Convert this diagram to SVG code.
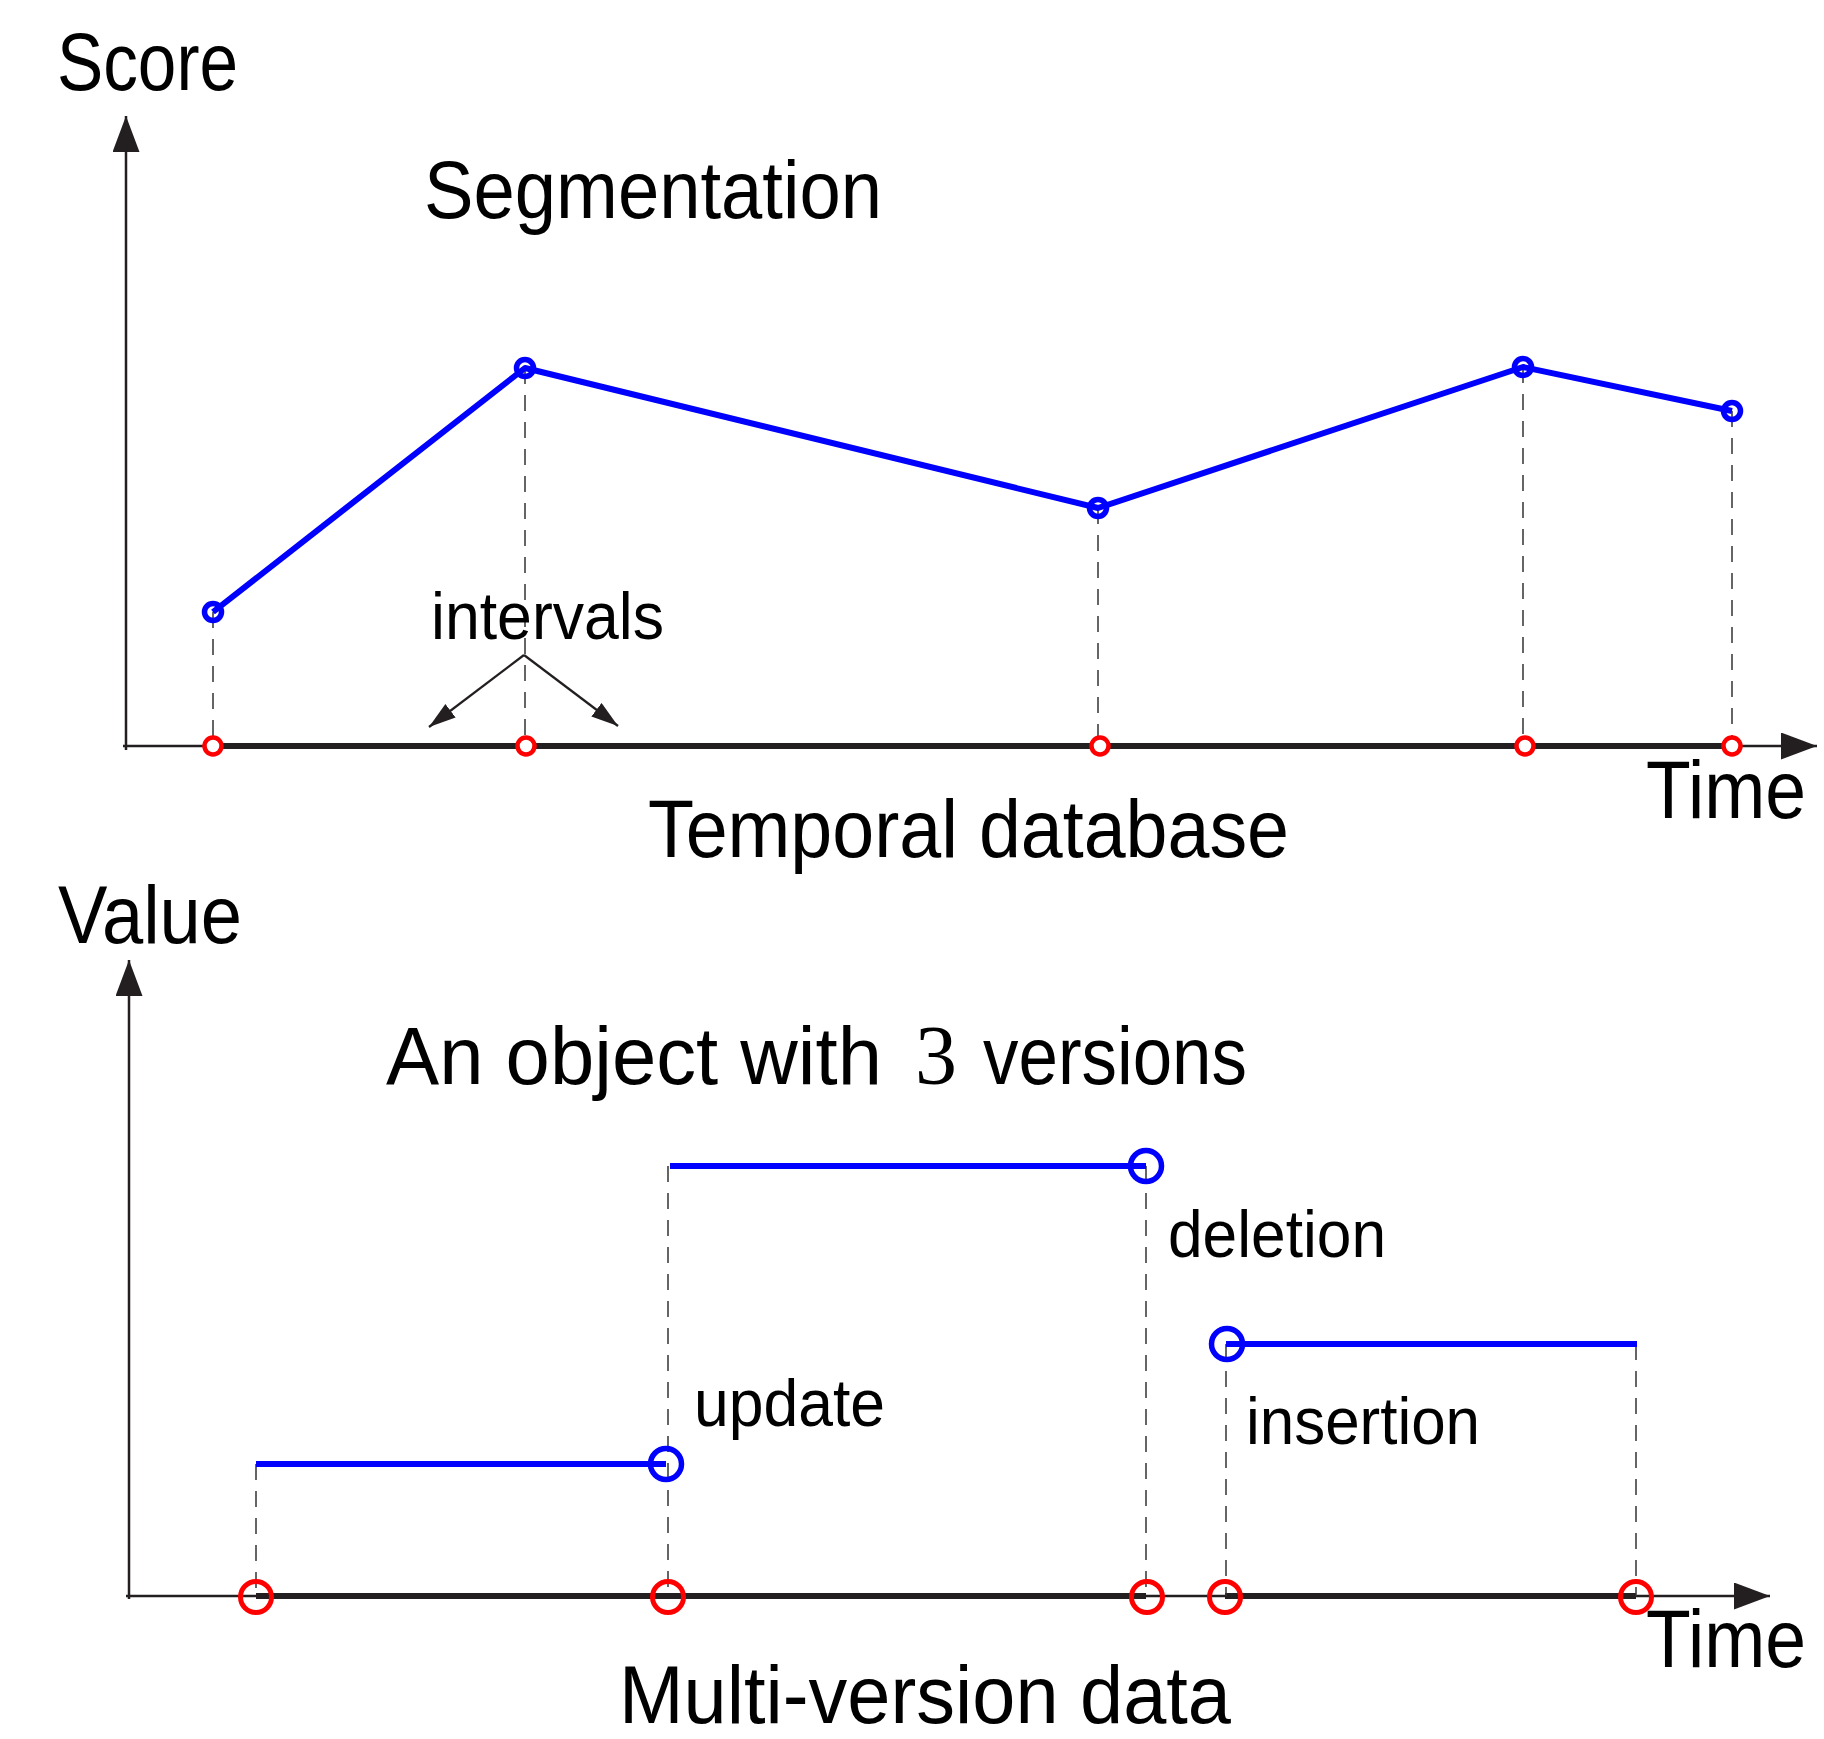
<svg xmlns="http://www.w3.org/2000/svg" width="1824" height="1739" viewBox="0 0 1824 1739">
<style>
  .big { font-family: "Liberation Sans", Arial, sans-serif; font-size: 81px; fill: #000; }
  .small { font-family: "Liberation Sans", Arial, sans-serif; font-size: 66px; fill: #000; }
  .serif { font-family: "Liberation Serif", "Times New Roman", serif; font-size: 84px; }
  .axis { stroke: #231f20; stroke-width: 2.5; fill: none; }
  .thick { stroke: #231f20; stroke-width: 6; fill: none; }
  .dash { stroke: #333; stroke-width: 1.5; stroke-dasharray: 16 11; fill: none; }
  .blue { stroke: #0000ff; stroke-width: 6; fill: none; stroke-linejoin: round; }
  .bpt { stroke: #0000ff; stroke-width: 5.5; fill: none; }
  .rpt { stroke: #ff0000; stroke-width: 4.5; fill: #fff; }
  .rptb { stroke: #ff0000; stroke-width: 5; fill: none; }
  .ptr { stroke: #231f20; stroke-width: 2.2; fill: none; }
</style>
<defs>
  <marker id="axArrow" markerUnits="userSpaceOnUse" markerWidth="37" markerHeight="28" refX="36" refY="13.5" orient="auto" viewBox="0 0 37 28">
    <path d="M0,0 L36,13.5 L0,27 Z" fill="#231f20"/>
  </marker>
  <marker id="smArrow" markerUnits="userSpaceOnUse" markerWidth="28" markerHeight="18" refX="27" refY="8.5" orient="auto" viewBox="0 0 28 18">
    <path d="M0,0 L27,8.5 L0,17 Z" fill="#231f20"/>
  </marker>
</defs>

<g id="connectors">
  <!-- top chart axes -->
  <line class="axis" x1="126" y1="750" x2="126" y2="116" marker-end="url(#axArrow)"/>
  <line class="axis" x1="123" y1="746" x2="1817" y2="746" marker-end="url(#axArrow)"/>
  <line class="thick" x1="213" y1="746" x2="1732" y2="746"/>
  <!-- top dashed projections -->
  <line class="dash" x1="213" y1="612" x2="213" y2="746"/>
  <line class="dash" x1="525" y1="368" x2="525" y2="746"/>
  <line class="dash" x1="1098" y1="508" x2="1098" y2="746"/>
  <line class="dash" x1="1523" y1="367" x2="1523" y2="746"/>
  <line class="dash" x1="1732" y1="411" x2="1732" y2="746"/>
  <!-- segmentation polyline -->
  <polyline class="blue" points="213,612 525,368 1098,508 1523,367 1732,411"/>
  <!-- intervals pointers -->
  <line class="ptr" x1="524" y1="655" x2="429" y2="727" marker-end="url(#smArrow)"/>
  <line class="ptr" x1="524" y1="655" x2="618" y2="726" marker-end="url(#smArrow)"/>

  <!-- bottom chart axes -->
  <line class="axis" x1="129" y1="1599" x2="129" y2="960" marker-end="url(#axArrow)"/>
  <line class="axis" x1="126" y1="1596" x2="1770" y2="1596" marker-end="url(#axArrow)"/>
  <line class="thick" x1="256" y1="1596" x2="1146" y2="1596"/>
  <line class="thick" x1="1225" y1="1596" x2="1636" y2="1596"/>
  <!-- bottom dashed projections -->
  <line class="dash" x1="256" y1="1464" x2="256" y2="1596"/>
  <line class="dash" x1="668" y1="1166" x2="668" y2="1596"/>
  <line class="dash" x1="1146" y1="1166" x2="1146" y2="1596"/>
  <line class="dash" x1="1226" y1="1344" x2="1226" y2="1596"/>
  <line class="dash" x1="1636" y1="1344" x2="1636" y2="1596"/>
  <!-- version segments -->
  <line class="blue" x1="256" y1="1464" x2="666" y2="1464"/>
  <line class="blue" x1="670" y1="1166" x2="1146" y2="1166"/>
  <line class="blue" x1="1226" y1="1344" x2="1637" y2="1344"/>
</g>

<g id="top-points">
  <circle class="bpt" cx="213" cy="612" r="8.5"/>
  <circle class="bpt" cx="525" cy="368" r="8.5"/>
  <circle class="bpt" cx="1098" cy="508" r="8.5"/>
  <circle class="bpt" cx="1523" cy="367" r="8.5"/>
  <circle class="bpt" cx="1732" cy="411" r="8.5"/>
  <circle class="rpt" cx="213" cy="746" r="8.5"/>
  <circle class="rpt" cx="526" cy="746" r="8.5"/>
  <circle class="rpt" cx="1100" cy="746" r="8.5"/>
  <circle class="rpt" cx="1525" cy="746" r="8.5"/>
  <circle class="rpt" cx="1732" cy="746" r="8.5"/>
</g>

<g id="bottom-points">
  <circle class="bpt" cx="666" cy="1464" r="15.5"/>
  <circle class="bpt" cx="1146" cy="1166" r="15.5"/>
  <circle class="bpt" cx="1227" cy="1344" r="15.5"/>
  <circle class="rptb" cx="256" cy="1597" r="15.5"/>
  <circle class="rptb" cx="668" cy="1597" r="15.5"/>
  <circle class="rptb" cx="1147" cy="1597" r="15.5"/>
  <circle class="rptb" cx="1225" cy="1597" r="15.5"/>
  <circle class="rptb" cx="1636" cy="1597" r="15.5"/>
</g>

<g id="labels">
  <text id="score" class="big" x="57" y="90" textLength="181" lengthAdjust="spacingAndGlyphs">Score</text>
  <text id="segmentation" class="big" x="424" y="218" textLength="458" lengthAdjust="spacingAndGlyphs">Segmentation</text>
  <text id="intervals" class="small" x="431" y="639" textLength="233" lengthAdjust="spacingAndGlyphs">intervals</text>
  <text id="temporal" class="big" x="648" y="857" textLength="641" lengthAdjust="spacingAndGlyphs">Temporal database</text>
  <text id="time1" class="big" x="1646" y="818" textLength="160" lengthAdjust="spacingAndGlyphs">Time</text>
  <text id="value" class="big" x="58" y="943" textLength="184" lengthAdjust="spacingAndGlyphs">Value</text>
  <text id="object" class="big" y="1084"><tspan x="386" textLength="496" lengthAdjust="spacingAndGlyphs">An object with</tspan><tspan class="serif" x="915">3</tspan><tspan x="983" textLength="264" lengthAdjust="spacingAndGlyphs">versions</tspan></text>
  <text id="deletion" class="small" x="1168" y="1257" textLength="218" lengthAdjust="spacingAndGlyphs">deletion</text>
  <text id="update" class="small" x="694" y="1426" textLength="191" lengthAdjust="spacingAndGlyphs">update</text>
  <text id="insertion" class="small" x="1246" y="1444" textLength="234" lengthAdjust="spacingAndGlyphs">insertion</text>
  <text id="multi" class="big" x="619" y="1723" textLength="612" lengthAdjust="spacingAndGlyphs">Multi-version data</text>
  <text id="time2" class="big" x="1646" y="1667" textLength="160" lengthAdjust="spacingAndGlyphs">Time</text>
</g>
</svg>
